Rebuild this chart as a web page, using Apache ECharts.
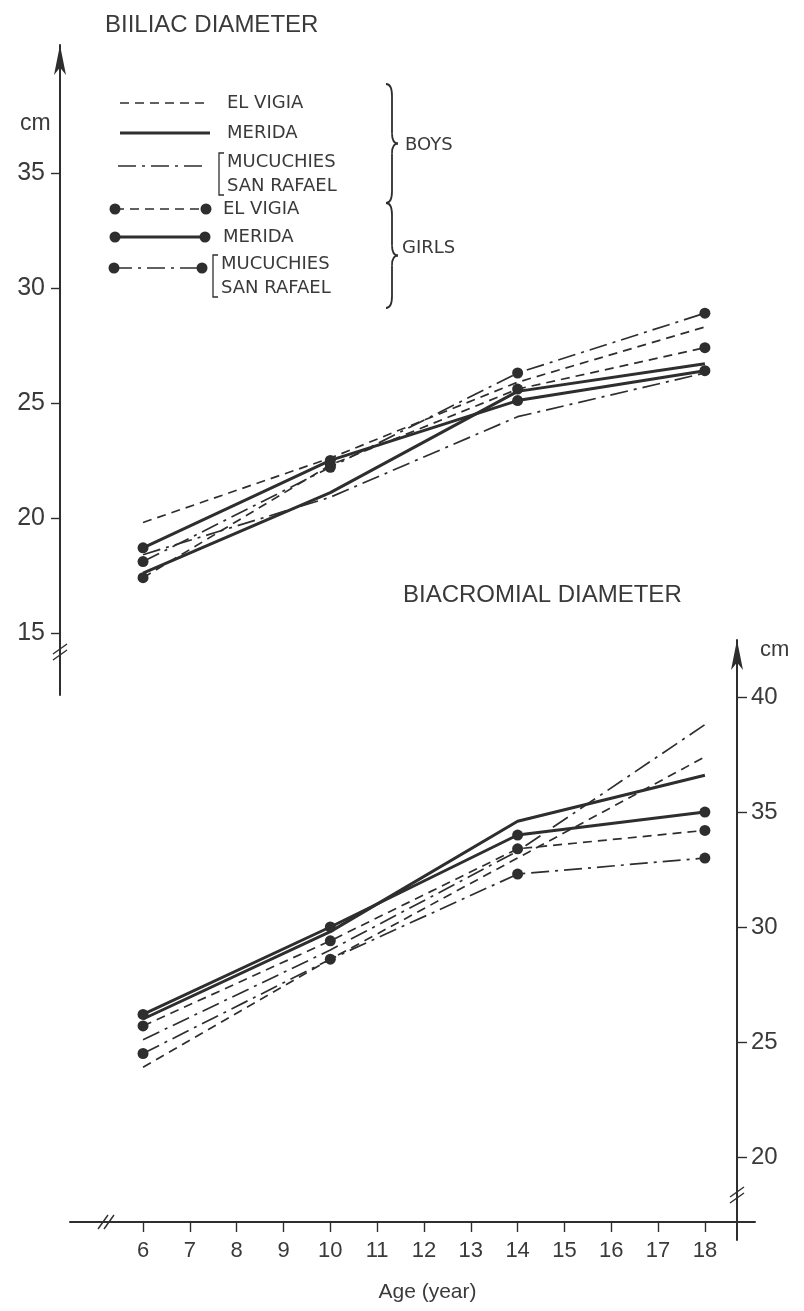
<!DOCTYPE html>
<html lang="en">
<head>
<meta charset="UTF-8"/>
<script src="https://cdn.jsdelivr.net/npm/echarts@6/dist/echarts.min.js"></script>
<title>Biiliac and biacromial diameter</title>
<style>
  html, body { margin: 0; padding: 0; background: #ffffff; }
  #main { width: 804px; height: 1311px; }
</style>
</head>
<body>
<div id="main"></div>
<script type="text/javascript">

// ---- data ----
var ages = [6, 10, 14, 18];
var ageTicks = [6, 7, 8, 9, 10, 11, 12, 13, 14, 15, 16, 17, 18];
var iliacTicks = [15, 20, 25, 30, 35];
var acromTicks = [20, 25, 30, 35, 40];

// biiliac diameter, cm
var iliacBoysElVigia    = [19.8, 22.6, 25.9, 28.3];
var iliacBoysMerida     = [17.6, 21.1, 25.5, 26.7];
var iliacBoysMucuchies  = [18.4, 20.9, 24.4, 26.3];
var iliacGirlsElVigia   = [17.4, 22.3, 25.6, 27.4];
var iliacGirlsMerida    = [18.7, 22.5, 25.1, 26.4];
var iliacGirlsMucuchies = [18.1, 22.2, 26.3, 28.9];

// biacromial diameter, cm
var acromBoysElVigia    = [23.9, 28.6, 33.0, 37.4];
var acromBoysMerida     = [26.0, 29.8, 34.6, 36.6];
var acromBoysMucuchies  = [25.1, 29.0, 33.3, 38.8];
var acromGirlsElVigia   = [25.7, 29.4, 33.4, 34.2];
var acromGirlsMerida    = [26.2, 30.0, 34.0, 35.0];
var acromGirlsMucuchies = [24.5, 28.6, 32.3, 33.0];

var groupNames = ['EL VIGIA', 'MERIDA', 'MUCUCHIES SAN RAFAEL'];

// ---- styles ----
var ink = '#2e2e2e';
var textInk = '#3a3a3a';
var dashed = [9, 6];
var dashDot = [18, 6, 3, 6];
var styles = [
    { type: dashed, width: 1.7 },
    { type: 'solid', width: 3 },
    { type: dashDot, width: 1.7 }
];

function pairs(vals) {
    return ages.map(function (a, i) { return [a, vals[i]]; });
}

function makeSeries(name, vals, styleIdx, girls, panel) {
    return {
        name: name,
        type: 'line',
        xAxisIndex: panel,
        yAxisIndex: panel,
        data: pairs(vals),
        symbol: girls ? 'circle' : 'none',
        symbolSize: 11,
        showSymbol: girls,
        itemStyle: { color: ink },
        lineStyle: { color: ink, width: styles[styleIdx].width, type: styles[styleIdx].type },
        silent: true,
        animation: false
    };
}

var series = [
    makeSeries('Boys EL VIGIA', iliacBoysElVigia, 0, false, 0),
    makeSeries('Boys MERIDA', iliacBoysMerida, 1, false, 0),
    makeSeries('Boys MUCUCHIES SAN RAFAEL', iliacBoysMucuchies, 2, false, 0),
    makeSeries('Girls EL VIGIA', iliacGirlsElVigia, 0, true, 0),
    makeSeries('Girls MERIDA', iliacGirlsMerida, 1, true, 0),
    makeSeries('Girls MUCUCHIES SAN RAFAEL', iliacGirlsMucuchies, 2, true, 0),
    makeSeries('Boys EL VIGIA', acromBoysElVigia, 0, false, 1),
    makeSeries('Boys MERIDA', acromBoysMerida, 1, false, 1),
    makeSeries('Boys MUCUCHIES SAN RAFAEL', acromBoysMucuchies, 2, false, 1),
    makeSeries('Girls EL VIGIA', acromGirlsElVigia, 0, true, 1),
    makeSeries('Girls MERIDA', acromGirlsMerida, 1, true, 1),
    makeSeries('Girls MUCUCHIES SAN RAFAEL', acromGirlsMucuchies, 2, true, 1)
];

// ---- hand drawn legend, braces and axis breaks ----
var graphics = [];
var legendFont = '18px "DejaVu Sans", sans-serif';

function addText(text, x, y, font, align) {
    graphics.push({ type: 'text', x: x, y: y, silent: true,
        style: { text: text, font: font, fill: textInk, align: align || 'left', verticalAlign: 'middle' } });
}
function addLine(x1, y1, x2, y2, w, dash) {
    graphics.push({ type: 'line', silent: true, shape: { x1: x1, y1: y1, x2: x2, y2: y2 },
        style: { stroke: ink, lineWidth: w, lineDash: dash || null } });
}
function addDot(x, y) {
    graphics.push({ type: 'circle', silent: true, shape: { cx: x, cy: y, r: 5.5 }, style: { fill: ink } });
}
function addBracket(x, y1, y2) {
    graphics.push({ type: 'polyline', silent: true, shape: { points: [[x + 5, y1], [x, y1], [x, y2], [x + 5, y2]] },
        style: { stroke: ink, lineWidth: 1.3, fill: null } });
}
function addBrace(x, y1, y2) {
    var mid = (y1 + y2) / 2;
    var s = { stroke: ink, lineWidth: 1.8, fill: null };
    graphics.push({ type: 'bezierCurve', silent: true, shape: { x1: x, y1: y1, x2: x + 6, y2: y1 + 12, cpx1: x + 6, cpy1: y1 }, style: s });
    addLine(x + 6, y1 + 12, x + 6, mid - 10, 1.8);
    graphics.push({ type: 'bezierCurve', silent: true, shape: { x1: x + 6, y1: mid - 10, x2: x + 12, y2: mid, cpx1: x + 6, cpy1: mid }, style: s });
    graphics.push({ type: 'bezierCurve', silent: true, shape: { x1: x + 12, y1: mid, x2: x + 6, y2: mid + 10, cpx1: x + 6, cpy1: mid }, style: s });
    addLine(x + 6, mid + 10, x + 6, y2 - 12, 1.8);
    graphics.push({ type: 'bezierCurve', silent: true, shape: { x1: x + 6, y1: y2 - 12, x2: x, y2: y2, cpx1: x + 6, cpy1: y2 }, style: s });
}
function addBreak(cx, cy, horizontal) {
    // two short parallel slashes across an axis
    for (var k = -1; k <= 1; k += 2) {
        if (horizontal) {
            addLine(cx + k * 3 - 5, cy + 7, cx + k * 3 + 5, cy - 7, 1.4);
        } else {
            addLine(cx - 7, cy + k * 3 + 5, cx + 7, cy + k * 3 - 5, 1.4);
        }
    }
}

var legendRows = [
    { y: 103, style: 0, girls: false, x1: 120, x2: 210, tx: 227 },
    { y: 133, style: 1, girls: false, x1: 120, x2: 210, tx: 227 },
    { y: 166, style: 2, girls: false, x1: 118, x2: 208, tx: 227 },
    { y: 209, style: 0, girls: true, x1: 115, x2: 206, tx: 223 },
    { y: 237, style: 1, girls: true, x1: 115, x2: 205, tx: 223 },
    { y: 268, style: 2, girls: true, x1: 114, x2: 202, tx: 221 }
];
legendRows.forEach(function (r, i) {
    var st = styles[r.style];
    addLine(r.x1, r.y, r.x2, r.y, st.width, st.type === 'solid' ? null : st.type);
    if (r.girls) { addDot(r.x1, r.y); addDot(r.x2, r.y); }
    if (r.style === 2) {
        var parts = groupNames[2].split(' ');
        addBracket(r.tx - 8, r.y - 13, r.y + 29);
        addText(parts[0], r.tx, r.y - 4, legendFont);
        addText(parts[1] + ' ' + parts[2], r.tx, r.y + 20, legendFont);
    } else {
        addText(groupNames[r.style], r.tx, r.y, legendFont);
    }
});
addBrace(386, 84, 203);
addBrace(386, 203, 308);
addText('BOYS', 405, 145, legendFont);
addText('GIRLS', 402, 248, legendFont);

addText('cm', 20, 124, '23px "Liberation Sans", Arial, sans-serif');
addText('cm', 760, 650, '22px "Liberation Sans", Arial, sans-serif');
addBreak(60, 652, false);
addBreak(737, 1195, false);
addBreak(106, 1222, true);

// ---- chart ----
var myChart = echarts.init(document.getElementById('main'));

var xMin = 4.44, xMax = 19.07;
var numFont = '"Liberation Sans", Arial, sans-serif';
var narrowFont = '"Liberation Sans Narrow", "Liberation Sans", Arial, sans-serif';

var option = {
    backgroundColor: '#ffffff',
    animation: false,
    title: [
        { text: 'BIILIAC DIAMETER', left: 100, top: 8,
          textStyle: { fontSize: 24, fontWeight: 'normal', color: textInk, fontFamily: numFont } },
        { text: 'BIACROMIAL DIAMETER', left: 398, top: 578,
          textStyle: { fontSize: 24, fontWeight: 'normal', color: textInk, fontFamily: numFont } }
    ],
    grid: [
        { left: 70, right: 49, top: 45, bottom: 616 },
        { left: 70, right: 49, top: 640, bottom: 71 }
    ],
    xAxis: [
        { gridIndex: 0, type: 'value', min: xMin, max: xMax, show: false, splitLine: { show: false } },
        {
            gridIndex: 1, type: 'value', min: xMin, max: xMax, position: 'bottom', offset: -18,
            axisLine: { show: true, onZero: false, lineStyle: { color: ink, width: 2 } },
            axisTick: { show: true, customValues: ageTicks, length: 10, lineStyle: { color: ink, width: 1.4 } },
            axisLabel: { customValues: ageTicks, fontSize: 22, color: textInk, fontFamily: narrowFont, margin: 18 },
            splitLine: { show: false },
            name: 'Age (year)', nameLocation: 'middle', nameGap: 60,
            nameTextStyle: { fontSize: 21, color: textInk, fontFamily: narrowFont, padding: [0, 0, 0, 30] }
        }
    ],
    yAxis: [
        {
            gridIndex: 0, type: 'value', min: 12.3, max: 40.56, position: 'left', offset: 10,
            axisLine: { show: true, onZero: false, symbol: ['none', 'arrow'], symbolSize: [9, 30],
                        lineStyle: { color: ink, width: 2 } },
            axisTick: { show: true, customValues: iliacTicks, length: 9, lineStyle: { color: ink, width: 1.4 } },
            axisLabel: { customValues: iliacTicks, fontSize: 25, color: textInk, fontFamily: numFont, margin: 15 },
            splitLine: { show: false }
        },
        {
            gridIndex: 1, type: 'value', min: 16.39, max: 42.48, position: 'right', offset: -18,
            axisLine: { show: true, onZero: false, symbol: ['none', 'arrow'], symbolSize: [9, 30],
                        lineStyle: { color: ink, width: 2 } },
            axisTick: { show: true, customValues: acromTicks, length: 10, lineStyle: { color: ink, width: 1.4 } },
            axisLabel: { customValues: acromTicks, fontSize: 24, color: textInk, fontFamily: numFont, margin: 14 },
            splitLine: { show: false }
        }
    ],
    graphic: graphics,
    series: series
};

myChart.setOption(option);

</script>
</body>
</html>
